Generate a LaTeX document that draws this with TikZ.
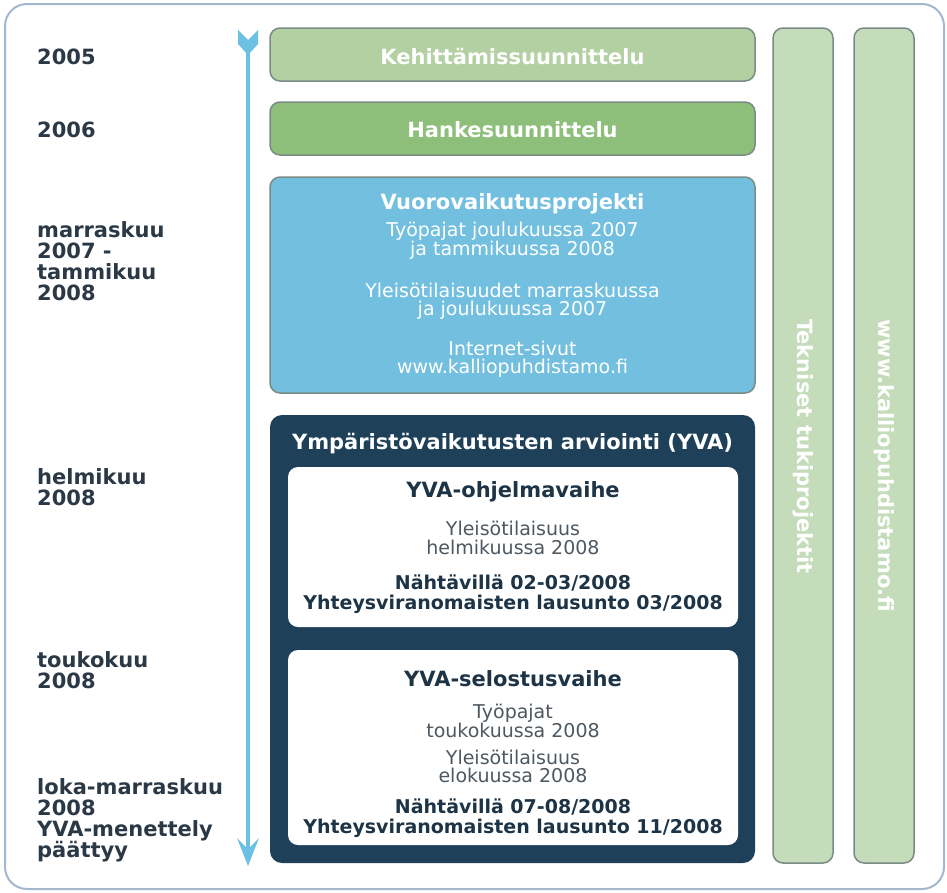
\documentclass[tikz,border=0pt]{standalone}
\usepackage{fontspec}
\setmainfont{DejaVu Sans}
\definecolor{framec}{HTML}{A3B8CF}
\definecolor{greenA}{HTML}{B2D0A2}
\definecolor{greenB}{HTML}{8DBE7A}
\definecolor{blueA}{HTML}{72BFE0}
\definecolor{navy}{HTML}{1E4059}
\definecolor{barc}{HTML}{C4DCB9}
\definecolor{arrowc}{HTML}{6CC0E4}
\definecolor{lbltext}{HTML}{2B3946}
\definecolor{inbold}{HTML}{1D3446}
\definecolor{inreg}{HTML}{4E5860}
\definecolor{edgec}{HTML}{7B8B85}
\begin{document}
\begin{tikzpicture}[x=1pt,y=-1pt,
  lbl/.style={font=\fontsize{21}{21}\selectfont\bfseries, text=lbltext, align=left, inner sep=0, anchor=west},
  boxedge/.style={draw=edgec, line width=1.5, rounded corners=10},
  wtitle/.style={font=\fontsize{21}{21}\selectfont\bfseries, text=white, align=center, inner sep=0},
  wbody/.style={font=\fontsize{19}{18}\selectfont, text=white, align=center, inner sep=0},
  ntitle/.style={font=\fontsize{21}{21}\selectfont\bfseries, text=inbold, align=center, inner sep=0},
  nbold/.style={font=\fontsize{19}{20}\selectfont\bfseries, text=inbold, align=center, inner sep=0},
  nreg/.style={font=\fontsize{19}{19}\selectfont, text=inreg, align=center, inner sep=0},
  bartext/.style={font=\fontsize{21}{21}\selectfont\bfseries, text=white, inner sep=0, rotate=-90, anchor=west}]
\useasboundingbox (0,0) rectangle (947,892);
\draw[framec, line width=2, rounded corners=22, fill=white] (5,4) rectangle (944,889);

% left labels
\node[lbl] (y2005) at (37,57) {2005};
\node[lbl] (y2006) at (37,130) {2006};
\node[lbl] (ymar) at (37,261.5) {marraskuu\\2007 -\\tammikuu\\2008};
\node[lbl] (yhel) at (37,487) {helmikuu\\2008};
\node[lbl] (ytou) at (37,670) {toukokuu\\2008};
\node[lbl] (ylok) at (37,820) {loka-marraskuu\\2008\\YVA-menettely\\päättyy};

% timeline arrow
\coordinate (tstart) at (248,40);
\coordinate (tend) at (248,850);
\draw[arrowc, line width=4] (tstart) -- (tend);
\fill[arrowc] (238,30) -- (248,40) -- (258,30) -- (258,44) -- (248,55) -- (238,44) -- cycle;
\fill[arrowc] (237,838) -- (248,849) -- (259,838) -- (248,866) -- cycle;

% green boxes
\draw[boxedge, fill=greenA] (270,28) rectangle (755,81);
\node[wtitle] (keh) at (512.5,57) {Kehittämissuunnittelu};
\draw[boxedge, fill=greenB] (270,102) rectangle (755,155);
\node[wtitle] (hanke) at (512.5,130) {Hankesuunnittelu};

% blue box
\draw[boxedge, fill=blueA] (270,177) rectangle (755,393);
\node[wtitle] (vuo) at (512.5,204) {Vuorovaikutusprojekti};
\node[wbody] (vuo1) at (512.5,241) {Työpajat joulukuussa 2007\\ja tammikuussa 2008};
\node[wbody] (vuo2) at (512.5,301) {Yleisötilaisuudet marraskuussa\\ja joulukuussa 2007};
\node[wbody] (vuo3) at (512.5,359) {Internet-sivut\\www.kalliopuhdistamo.fi};

% YVA box
\fill[navy, rounded corners=12] (270,415) rectangle (755,863);
\node[wtitle] (yva) at (512.5,444) {Ympäristövaikutusten arviointi (YVA)};
\fill[white, rounded corners=10] (288,467) rectangle (738,627);
\node[ntitle] (ohj) at (513,492) {YVA-ohjelmavaihe};
\node[nreg] (ohj1) at (513,538) {Yleisötilaisuus\\helmikuussa 2008};
\node[nbold] (ohj2) at (513,594) {Nähtävillä 02-03/2008\\Yhteysviranomaisten lausunto 03/2008};
\fill[white, rounded corners=10] (288,650) rectangle (738,845);
\node[ntitle] (sel) at (513,679) {YVA-selostusvaihe};
\node[nreg, font=\fontsize{19}{18}\selectfont] (sel1) at (513,721) {Työpajat\\toukokuussa 2008};
\node[nreg, font=\fontsize{19}{18}\selectfont] (sel2) at (513,766) {Yleisötilaisuus\\elokuussa 2008};
\node[nbold] (sel3) at (513,818) {Nähtävillä 07-08/2008\\Yhteysviranomaisten lausunto 11/2008};

% side bars
\draw[boxedge, fill=barc] (773,28) rectangle (833,863);
\node[bartext] (tek) at (803,319) {Tekniset tukiprojektit};
\draw[boxedge, fill=barc] (854,28) rectangle (914,863);
\node[bartext] (www) at (884,319) {www.kalliopuhdistamo.fi};
\end{tikzpicture}
\end{document}
